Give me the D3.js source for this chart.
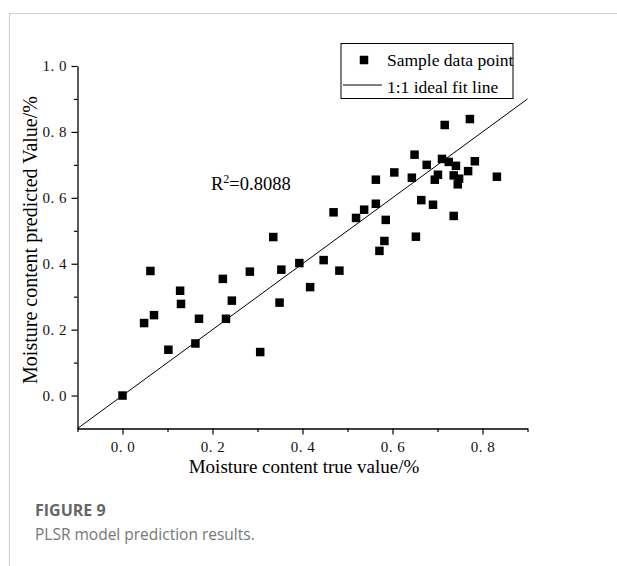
<!DOCTYPE html>
<html>
<head>
<meta charset="utf-8">
<script src="https://cdn.jsdelivr.net/npm/d3@7"></script>
<style>
  body { margin: 0; background: #fff; }
</style>
</head>
<body>
<script>
// measured moisture content (true) vs PLSR prediction
var trueValues = [0.000, 0.048, 0.062, 0.070, 0.102, 0.128, 0.130, 0.162, 0.170, 0.223,
                  0.230, 0.243, 0.283, 0.306, 0.335, 0.349, 0.353, 0.393, 0.417, 0.447,
                  0.469, 0.482, 0.519, 0.537, 0.563, 0.563, 0.571, 0.582, 0.585, 0.604,
                  0.643, 0.649, 0.652, 0.664, 0.676, 0.690, 0.694, 0.701, 0.710, 0.716,
                  0.725, 0.736, 0.736, 0.741, 0.745, 0.748, 0.768, 0.772, 0.783, 0.832];
var predictedValues = [0.000, 0.220, 0.378, 0.244, 0.139, 0.318, 0.278, 0.158, 0.233, 0.354,
                       0.233, 0.288, 0.376, 0.132, 0.481, 0.282, 0.382, 0.402, 0.329, 0.411,
                       0.556, 0.379, 0.539, 0.564, 0.582, 0.655, 0.439, 0.469, 0.533, 0.677,
                       0.661, 0.731, 0.482, 0.593, 0.700, 0.579, 0.655, 0.670, 0.718, 0.821,
                       0.709, 0.668, 0.545, 0.697, 0.641, 0.658, 0.681, 0.839, 0.711, 0.664];
var fitLine = [-0.1, 0.9];
var xMajor = [0, 0.2, 0.4, 0.6, 0.8];
var xMinor = [-0.1, 0.1, 0.3, 0.5, 0.7, 0.9];
var yMajor = [0, 0.2, 0.4, 0.6, 0.8, 1.0];
var yMinor = [0.1, 0.3, 0.5, 0.7, 0.9];
var r2Label = "0.8088";

var width = 617, height = 566;
var serif = "'Liberation Serif', 'Times New Roman', serif";

var svg = d3.select("body").append("svg")
    .attr("width", width)
    .attr("height", height);

// figure frame (top + left rule)
svg.append("path")
    .attr("d", "M9.5,566V13.5H617")
    .attr("fill", "none")
    .attr("stroke", "#cfcfcf")
    .attr("stroke-width", 1.2);

var x = d3.scaleLinear().domain([-0.1, 0.9]).range([77.5, 527.5]);
var y = d3.scaleLinear().domain([-0.1, 1.0]).range([428.5, 66]);

function fmt(d) { return d3.format(".1f")(d).replace(".", ". "); }

// x axis
var gx = svg.append("g").attr("transform", "translate(0," + y(-0.1) + ")");
gx.call(d3.axisBottom(x).tickValues(xMajor).tickSize(6).tickSizeOuter(0).tickFormat(fmt));
gx.append("g").call(d3.axisBottom(x).tickValues(xMinor).tickSize(3.5).tickSizeOuter(0).tickFormat(""))
    .select(".domain").remove();

// y axis
var gy = svg.append("g").attr("transform", "translate(" + x(-0.1) + ",0)");
gy.call(d3.axisLeft(y).tickValues(yMajor).tickSize(6).tickSizeOuter(0).tickFormat(fmt));
gy.append("g").call(d3.axisLeft(y).tickValues(yMinor).tickSize(3.5).tickSizeOuter(0).tickFormat(""))
    .select(".domain").remove();

svg.selectAll(".domain").attr("stroke", "#000").attr("stroke-width", 1.3);
svg.selectAll(".tick line").attr("stroke", "#000").attr("stroke-width", 1.2);
svg.selectAll(".tick text")
    .style("font-family", serif)
    .style("font-size", "15px")
    .style("letter-spacing", "0.5px")
    .attr("fill", "#111");
gx.selectAll(".tick text").attr("dy", "0.95em");
gy.selectAll(".tick text").attr("dx", "-0.1em");

// 1:1 line
svg.append("line")
    .attr("x1", x(fitLine[0])).attr("y1", y(fitLine[0]))
    .attr("x2", x(fitLine[1])).attr("y2", y(fitLine[1]))
    .attr("stroke", "#000")
    .attr("stroke-width", 1);

// points
var pts = trueValues.map(function(v, i) { return [v, predictedValues[i]]; });
var s = 8.5;
svg.append("g").selectAll("rect")
    .data(pts)
    .join("rect")
    .attr("x", function(d) { return x(d[0]) - s / 2; })
    .attr("y", function(d) { return y(d[1]) - s / 2; })
    .attr("width", s)
    .attr("height", s)
    .attr("fill", "#000");

// R2 annotation
var r2 = svg.append("text")
    .attr("x", 211).attr("y", 190)
    .attr("font-family", serif)
    .attr("font-size", 18.5);
r2.append("tspan").text("R");
r2.append("tspan").attr("font-size", 12).attr("dy", -7).text("2");
r2.append("tspan").attr("dy", 7).text("=" + r2Label);

// axis titles
svg.append("text")
    .attr("x", 304).attr("y", 473)
    .attr("text-anchor", "middle")
    .attr("font-family", serif)
    .attr("font-size", 19)
    .text("Moisture content true value/%");

svg.append("text")
    .attr("transform", "translate(37,240) rotate(-90)")
    .attr("text-anchor", "middle")
    .attr("font-family", serif)
    .attr("font-size", 20)
    .text("Moisture content predicted Value/%");

// legend
var lg = svg.append("g");
lg.append("rect")
    .attr("x", 341).attr("y", 43.5)
    .attr("width", 172).attr("height", 55)
    .attr("fill", "#fff")
    .attr("stroke", "#000")
    .attr("stroke-width", 1);
lg.append("rect")
    .attr("x", 364 - s / 2).attr("y", 60 - s / 2)
    .attr("width", s).attr("height", s)
    .attr("fill", "#000");
lg.append("line")
    .attr("x1", 343).attr("x2", 382)
    .attr("y1", 85).attr("y2", 85)
    .attr("stroke", "#000");
lg.append("text")
    .attr("x", 387).attr("y", 66)
    .attr("font-family", serif).attr("font-size", 17.5)
    .text("Sample data point");
lg.append("text")
    .attr("x", 387).attr("y", 93)
    .attr("font-family", serif).attr("font-size", 17.5)
    .text("1:1 ideal fit line");

// caption
svg.append("text")
    .attr("x", 35).attr("y", 516)
    .attr("font-family", "'Open Sans', sans-serif")
    .attr("font-weight", "bold")
    .attr("font-size", 16)
    .attr("fill", "#666")
    .text("FIGURE 9");
svg.append("text")
    .attr("x", 35).attr("y", 540)
    .attr("font-family", "'Open Sans', sans-serif")
    .attr("font-size", 15.5)
    .attr("fill", "#777")
    .text("PLSR model prediction results.");
</script>
</body>
</html>
